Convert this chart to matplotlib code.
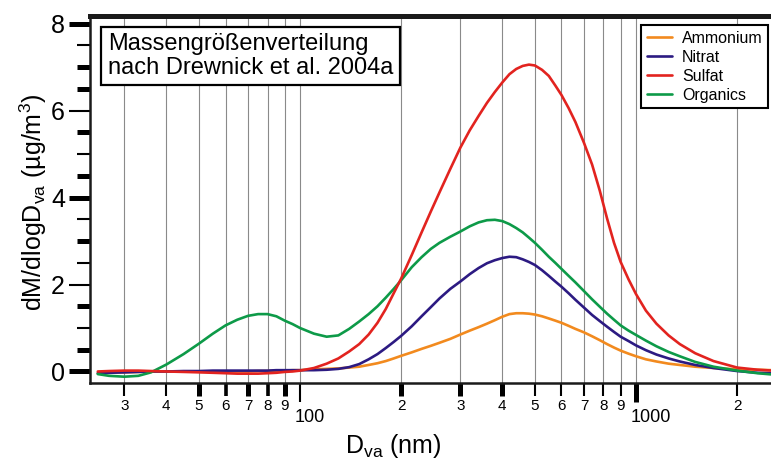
#!/usr/bin/env python3
"""Mass size distribution (Drewnick et al. 2004a) for the four AMS species."""
import matplotlib
matplotlib.use('Agg')
import matplotlib.pyplot as plt
from matplotlib.ticker import FixedLocator, FixedFormatter, NullFormatter
from matplotlib.transforms import ScaledTranslation

plt.rcParams['font.family'] = ['Liberation Sans', 'DejaVu Sans']
plt.rcParams['mathtext.fontset'] = 'custom'
plt.rcParams['mathtext.rm'] = 'Liberation Sans'

# vacuum aerodynamic diameter (nm)
d_va = [25, 27, 30, 33, 36, 40, 45, 50, 55, 60, 65, 70, 75, 80, 85, 90, 95, 100, 110,
        120, 130, 140, 150, 160, 170, 180, 190, 200, 215, 230, 245, 260, 280, 300, 320, 340, 360, 380, 400,
        420, 440, 460, 480, 500, 525, 550, 575, 600, 630, 660, 700, 740, 780, 820, 860, 900, 950,
        1000, 1070, 1150, 1250, 1350, 1500, 1700, 2000, 2300, 2550]

# dM/dlogDva (ug/m3)
ammonium = [-0.04, -0.03, -0.02, -0.01, 0.0, 0.0, 0.0, 0.0, 0.0, 0.0, 0.0, 0.0, 0.01, 0.01, 0.02, 0.02, 0.03, 0.03, 0.05,
            0.06, 0.07, 0.09, 0.11, 0.15, 0.19, 0.24, 0.30, 0.36, 0.44, 0.52, 0.59, 0.66, 0.75, 0.85, 0.94, 1.02, 1.10, 1.18, 1.26,
            1.32, 1.34, 1.34, 1.33, 1.31, 1.27, 1.22, 1.17, 1.12, 1.05, 0.98, 0.90, 0.81, 0.72, 0.63, 0.55, 0.48, 0.41,
            0.35, 0.28, 0.23, 0.18, 0.15, 0.11, 0.08, 0.05, 0.04, 0.03]
nitrat = [-0.04, -0.03, -0.02, -0.01, 0.0, 0.0, 0.01, 0.01, 0.02, 0.02, 0.02, 0.02, 0.02, 0.02, 0.03, 0.03, 0.03, 0.03, 0.03,
          0.04, 0.06, 0.10, 0.17, 0.28, 0.40, 0.54, 0.68, 0.82, 1.04, 1.27, 1.48, 1.68, 1.90, 2.07, 2.24, 2.38, 2.49, 2.56, 2.61,
          2.64, 2.63, 2.58, 2.52, 2.45, 2.33, 2.20, 2.07, 1.95, 1.80, 1.65, 1.47, 1.30, 1.16, 1.03, 0.91, 0.80, 0.70,
          0.60, 0.49, 0.39, 0.30, 0.23, 0.15, 0.08, 0.01, -0.03, -0.04]
sulfat = [0.0, 0.01, 0.02, 0.02, 0.01, 0.0, -0.01, -0.02, -0.03, -0.04, -0.05, -0.05, -0.05, -0.04, -0.03, -0.01, 0.0, 0.02, 0.08,
          0.18, 0.30, 0.46, 0.63, 0.85, 1.12, 1.44, 1.80, 2.14, 2.68, 3.20, 3.68, 4.12, 4.66, 5.15, 5.55, 5.88, 6.18, 6.43, 6.65,
          6.84, 6.96, 7.03, 7.06, 7.04, 6.94, 6.80, 6.58, 6.36, 6.06, 5.74, 5.26, 4.76, 4.16, 3.52, 2.96, 2.52, 2.12,
          1.78, 1.40, 1.10, 0.83, 0.63, 0.42, 0.24, 0.09, 0.04, 0.02]
organics = [-0.06, -0.10, -0.12, -0.10, -0.02, 0.16, 0.40, 0.64, 0.87, 1.06, 1.19, 1.28, 1.32, 1.32, 1.27, 1.17, 1.09, 1.00, 0.87,
            0.80, 0.83, 0.98, 1.15, 1.32, 1.50, 1.70, 1.90, 2.10, 2.40, 2.63, 2.82, 2.96, 3.10, 3.22, 3.34, 3.43, 3.48, 3.49, 3.46,
            3.39, 3.30, 3.20, 3.08, 2.96, 2.80, 2.64, 2.50, 2.36, 2.20, 2.05, 1.85, 1.66, 1.49, 1.33, 1.19, 1.06, 0.94,
            0.84, 0.71, 0.58, 0.45, 0.35, 0.22, 0.11, 0.02, -0.04, -0.07]

x_major = [100, 1000]
x_major_labels = ['100', '1000']
x_minor = [30, 40, 50, 60, 70, 80, 90, 200, 300, 400, 500, 600, 700, 800, 900, 2000]
x_minor_labels = ['3', '4', '5', '6', '7', '8', '9', '2', '3', '4', '5', '6', '7', '8', '9', '2']
y_major = [0, 2, 4, 6, 8]
y_minor = [0.5, 1, 1.5, 2.5, 3, 3.5, 4.5, 5, 5.5, 6.5, 7, 7.5]

# tick widths (pt) - the original scan has uneven tick strokes
THICK, MED, THIN = 3.6, 2.6, 1.5
x_major_w = [THIN, THICK]
x_minor_w = [THIN, THIN, THICK, MED, THICK, MED, THICK, THICK, THICK, THICK,
             THIN, THIN, THIN, THIN, THIN, THIN]
y_major_w = [THICK, THIN, THICK, THIN, THICK]
y_minor_w = [THICK, THIN, THICK, THIN, THICK, THIN, THICK, THIN, THICK, THICK, THICK, THIN]

colors = {'Ammonium': '#f28a1e', 'Nitrat': '#2c1a82', 'Sulfat': '#e2231f', 'Organics': '#0d9a48'}

W, H = 771, 462
fig = plt.figure(figsize=(W / 100, H / 100), dpi=100)
ax = fig.add_axes([90 / W, (H - 383) / H, (W - 90) / W, (383 - 15.5) / H])

lines = {}
for name, vals in [('Ammonium', ammonium), ('Nitrat', nitrat), ('Organics', organics), ('Sulfat', sulfat)]:
    lines[name], = ax.plot(d_va, vals, color=colors[name], lw=1.9, label=name,
                           solid_capstyle='round', solid_joinstyle='round')

ax.set_xscale('log')
ax.set_xlim(23.7, 2522)
ax.set_ylim(-0.265, 8.19)

ax.xaxis.set_major_locator(FixedLocator(x_major))
ax.xaxis.set_major_formatter(FixedFormatter(x_major_labels))
ax.xaxis.set_minor_locator(FixedLocator(x_minor))
ax.xaxis.set_minor_formatter(FixedFormatter(x_minor_labels))
ax.yaxis.set_major_locator(FixedLocator(y_major))
ax.yaxis.set_minor_locator(FixedLocator(y_minor))
ax.yaxis.set_minor_formatter(NullFormatter())

ax.tick_params(axis='x', which='major', direction='out', length=14, pad=5, labelsize=13)
ax.tick_params(axis='x', which='minor', direction='out', length=9.5, pad=2, labelsize=11)
ax.tick_params(axis='y', which='major', direction='out', length=15, pad=3, labelsize=18)
ax.tick_params(axis='y', which='minor', direction='out', length=9.5)

for tick, w in zip(ax.xaxis.get_major_ticks(), x_major_w):
    tick.tick1line.set_markeredgewidth(w)
for tick, w in zip(ax.xaxis.get_minor_ticks(), x_minor_w):
    tick.tick1line.set_markeredgewidth(w)
for tick, w in zip(ax.yaxis.get_major_ticks(), y_major_w):
    tick.tick1line.set_markeredgewidth(w)
for tick, w in zip(ax.yaxis.get_minor_ticks(), y_minor_w):
    tick.tick1line.set_markeredgewidth(w)

# the decade labels sit to the right of their tick
shift = ScaledTranslation(-5 / 100, 0, fig.dpi_scale_trans)
for lab in ax.get_xticklabels(which='major'):
    lab.set_horizontalalignment('left')
    lab.set_transform(lab.get_transform() + shift)

ax.grid(True, which='both', axis='x', color='#8a8a8a', lw=0.8)
ax.set_axisbelow(True)

ax.spines['right'].set_visible(False)
ax.spines['top'].set_linewidth(3.6)
ax.spines['left'].set_linewidth(1.8)
ax.spines['bottom'].set_linewidth(1.8)
for s in ('top', 'left', 'bottom'):
    ax.spines[s].set_color('#1a1a1a')

fig.text(33 / W, 1 - 202 / H, 'dM/dlogD$_{\\mathregular{va}}$ (µg/m$^{\\mathregular{3}}$)',
         rotation=90, ha='center', va='center', fontsize=18)
fig.text(393 / W, 1 - 446 / H, 'D$_{\\mathregular{va}}$ (nm)', ha='center', va='center', fontsize=18)

fig.text(108 / W, 1 - 33.2 / H, 'Massengrößenverteilung\nnach Drewnick et al. 2004a',
         ha='left', va='top', fontsize=17, linespacing=1.08,
         bbox=dict(boxstyle='square,pad=0.28', fc='white', ec='black', lw=1.6))

order = ['Ammonium', 'Nitrat', 'Sulfat', 'Organics']
leg = ax.legend([lines[n] for n in order], order, loc='upper right',
                bbox_to_anchor=(768 / W, 1 - 25 / H), bbox_transform=fig.transFigure,
                borderaxespad=0, fontsize=11.5, handlelength=1.6, handletextpad=0.6,
                labelspacing=0.25, borderpad=0.35, fancybox=False, framealpha=1)
leg.get_frame().set_edgecolor('black')
leg.get_frame().set_linewidth(1.5)

fig.savefig('out.png', dpi=100)
